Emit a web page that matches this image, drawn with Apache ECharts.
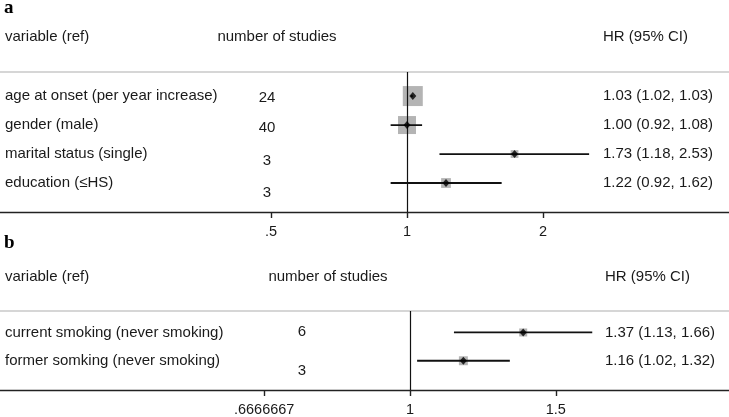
<!DOCTYPE html>
<html>
<head>
<meta charset="utf-8">
<script src="https://cdn.jsdelivr.net/npm/echarts@6/dist/echarts.min.js"></script>
<style>
html,body{margin:0;padding:0;background:#fff;}
#c{width:729px;height:417px;}
</style>
</head>
<body>
<div id="c"></div>
<script>
// ---------- DATA ----------
const panelLetters = ['a', 'b'];
const headerTexts = ['variable (ref)', 'number of studies', 'HR (95% CI)'];

const varsA = ['age at onset (per year increase)', 'gender (male)', 'marital status (single)', 'education (\u2264HS)'];
const studiesA = [24, 40, 3, 3];
const hrA = [1.03, 1.00, 1.73, 1.22];
const loA = [1.02, 0.92, 1.18, 0.92];
const hiA = [1.03, 1.08, 2.53, 1.62];
const weightA = [100, 81, 15, 24];

const varsB = ['current smoking (never smoking)', 'former somking (never smoking)'];
const studiesB = [6, 3];
const hrB = [1.37, 1.16];
const loB = [1.13, 1.02];
const hiB = [1.66, 1.32];
const weightB = [16, 20];

const ticksA = [0.5, 1, 2];
const tickLabelsA = ['.5', '1', '2'];
const ticksB = [2 / 3, 1, 1.5];
const tickLabelsB = ['.6666667', '1', '1.5'];

// axis ranges (log scales)
const rangeA = [0.12565, 5.161];
const rangeB = [0.3198, 2.428];

// ---------- STYLE / LAYOUT ----------
const FONT = '"Liberation Sans", Arial, sans-serif';
const FS = 15;
const TXT = '#1a1a1a';
const countShiftA = [2, 3, 7, 9.5];
const countShiftB = [-1, 10];

function fmt(v) { return v.toFixed(2); }

function panel(cfg) {
  const rows = cfg.vars.map((_, i) => i + 1);
  const g = cfg.grid;
  const xi = cfg.xIndex, yi = cfg.yIndex;
  const xAxes = [
    {
      type: 'log', logBase: cfg.logBase, gridIndex: g, min: cfg.range[0], max: cfg.range[1],
      axisLine: { show: true, onZero: false, lineStyle: { color: '#222', width: 1.4 } },
      axisTick: { show: true, length: 6, customValues: cfg.ticks, lineStyle: { color: '#222', width: 1.4 } },
      axisLabel: {
        show: true, customValues: cfg.ticks, margin: 12, color: TXT, fontSize: 14.5, fontFamily: FONT,
        formatter: function (v) {
          let best = 0, bd = Infinity;
          cfg.ticks.forEach((t, k) => { const d = Math.abs(Math.log(t) - Math.log(v)); if (d < bd) { bd = d; best = k; } });
          return cfg.tickLabels[best];
        }
      },
      splitLine: { show: false }, minorTick: { show: false }
    },
    {
      type: 'value', position: 'top', gridIndex: g, min: 0, max: 1,
      axisLine: { show: true, onZero: false, lineStyle: { color: '#d6d6d6', width: 2 } },
      axisTick: { show: false }, axisLabel: { show: false }, splitLine: { show: false }
    }
  ];
  const yBase = {
    type: 'value', gridIndex: g, inverse: true, min: cfg.yRange[0], max: cfg.yRange[1],
    axisLine: { show: false }, axisTick: { show: false }, splitLine: { show: false }, position: 'left'
  };
  const rowIdx = v => Math.round(v) - 1;
  const yAxes = [
    Object.assign({}, yBase, {
      offset: 0,
      axisLabel: { show: true, inside: true, margin: 5, align: 'left', color: TXT, fontSize: FS, fontFamily: FONT,
        customValues: rows, formatter: v => cfg.vars[rowIdx(v)] }
    }),
    Object.assign({}, yBase, {
      offset: -cfg.countX,
      axisLabel: { show: true, inside: true, margin: 0, align: 'center', color: TXT, fontSize: FS, fontFamily: FONT,
        customValues: rows,
        formatter: v => '{s' + rowIdx(v) + '|' + cfg.studies[rowIdx(v)] + '}',
        rich: Object.fromEntries(cfg.countShift.map((s, k) => ['s' + k, {
          fontSize: FS, fontFamily: FONT, color: TXT,
          padding: s >= 0 ? [2 * s, 0, 0, 0] : [0, 0, -2 * s, 0]
        }]))
      }
    }),
    Object.assign({}, yBase, {
      offset: -cfg.hrX,
      axisLabel: { show: true, inside: true, margin: 0, align: 'left', color: TXT, fontSize: FS, fontFamily: FONT,
        customValues: rows,
        formatter: v => { const k = rowIdx(v); return fmt(cfg.hr[k]) + ' (' + fmt(cfg.lo[k]) + ', ' + fmt(cfg.hi[k]) + ')'; } }
    })
  ];
  const series = [
    {
      type: 'scatter', xAxisIndex: xi, yAxisIndex: yi, silent: true, z: 1,
      symbol: 'rect',
      symbolSize: (val, p) => 2 * Math.sqrt(cfg.weight[p.dataIndex]),
      itemStyle: { color: '#b4b4b4', opacity: 1 },
      data: cfg.hr.map((h, i) => [h, i + 1])
    },
    {
      type: 'custom', xAxisIndex: xi, yAxisIndex: yi, silent: true, z: 3,
      renderItem: function (params, api) {
        const a = api.coord([api.value(0), api.value(2)]);
        const b = api.coord([api.value(1), api.value(2)]);
        return { type: 'line', shape: { x1: a[0], y1: a[1], x2: b[0], y2: b[1] },
          style: { stroke: '#111', lineWidth: 1.8 } };
      },
      encode: { x: [0, 1], y: 2 },
      data: cfg.lo.map((l, i) => [l, cfg.hi[i], i + 1]),
      markLine: {
        silent: true, symbol: 'none', z: 2, animation: false,
        label: { show: false },
        lineStyle: { color: '#111', width: 1.2, type: 'solid' },
        data: [{ xAxis: 1 }]
      }
    },
    {
      type: 'scatter', xAxisIndex: xi, yAxisIndex: yi, silent: true, z: 4,
      symbol: 'diamond', symbolSize: [7, 8],
      itemStyle: { color: '#000' },
      data: cfg.hr.map((h, i) => [h, i + 1])
    }
  ];
  return { xAxes, yAxes, series };
}

const pA = panel({
  grid: 0, xIndex: 0, yIndex: 0, logBase: 2, range: rangeA, ticks: ticksA, tickLabels: tickLabelsA,
  yRange: [0.17, 5.0], vars: varsA, studies: studiesA, hr: hrA, lo: loA, hi: hiA, weight: weightA,
  countX: 267, hrX: 603, countShift: countShiftA
});
const pB = panel({
  grid: 1, xIndex: 2, yIndex: 3, logBase: 1.5, range: rangeB, ticks: ticksB, tickLabels: tickLabelsB,
  yRange: [0.241, 3.034], vars: varsB, studies: studiesB, hr: hrB, lo: loB, hi: hiB, weight: weightB,
  countX: 302, hrX: 605, countShift: countShiftB
});

function headerGraphics(letterY, headY, numCenterX, hrX, letter) {
  return [
    { type: 'text', left: 4, top: letterY, style: { text: letter, font: 'bold 19px "Liberation Serif", "Times New Roman", serif', fill: '#000' } },
    { type: 'text', x: 5, y: headY, style: { text: headerTexts[0], font: FS + 'px ' + FONT, fill: TXT, verticalAlign: 'middle', align: 'left' } },
    { type: 'text', x: numCenterX, y: headY, style: { text: headerTexts[1], font: FS + 'px ' + FONT, fill: TXT, verticalAlign: 'middle', align: 'center' } },
    { type: 'text', x: hrX, y: headY, style: { text: headerTexts[2], font: FS + 'px ' + FONT, fill: TXT, verticalAlign: 'middle', align: 'left' } }
  ];
}

const option = {
  animation: false,
  backgroundColor: '#fff',
  grid: [
    { left: 0, right: 0, top: 72, height: 140 },
    { left: 0, right: 0, top: 311, height: 81 }
  ],
  xAxis: pA.xAxes.concat(pB.xAxes),
  yAxis: pA.yAxes.concat(pB.yAxes),
  series: pA.series.concat(pB.series),
  graphic: headerGraphics(-1, 37, 277, 603, panelLetters[0]).concat(headerGraphics(234, 276.5, 328, 605, panelLetters[1]))
};

const chart = echarts.init(document.getElementById('c'), null, { renderer: 'canvas' });
chart.setOption(option);
</script>
</body>
</html>
